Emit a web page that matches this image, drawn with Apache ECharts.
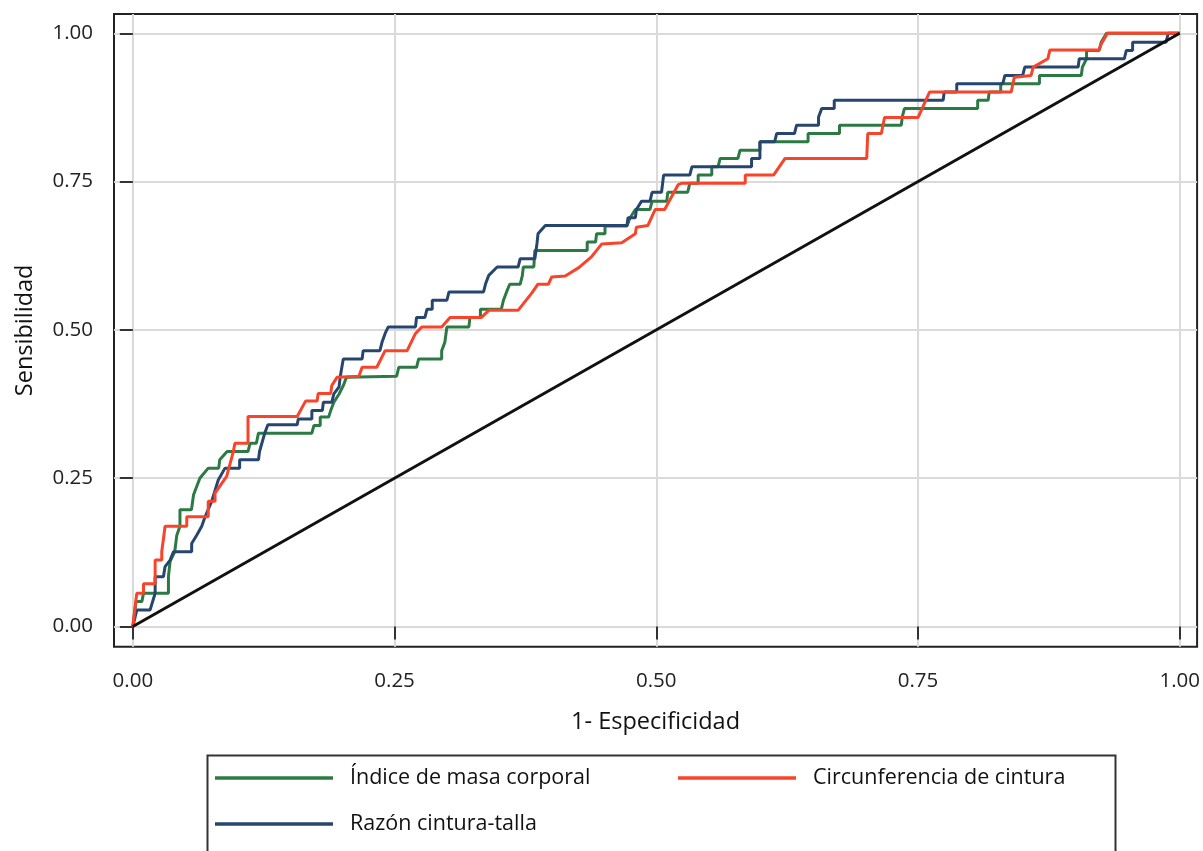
<!DOCTYPE html>
<html>
<head>
<meta charset="utf-8">
<script src="https://cdn.jsdelivr.net/npm/echarts@6/dist/echarts.min.js"></script>
<style>
html,body{margin:0;padding:0;background:#fff;}
#chart{width:1203px;height:851px;}
</style>
</head>
<body>
<div id="chart"></div>
<script>
const seriesNames = ['Índice de masa corporal', 'Circunferencia de cintura', 'Razón cintura-talla'];
const tickValues = [0, 0.25, 0.5, 0.75, 1];
const tickLabels = ['0.00', '0.25', '0.50', '0.75', '1.00'];
const xTitle = '1- Especificidad';
const yTitle = 'Sensibilidad';

const imcPoints = [[0,0],[0.0016,0.022],[0.003,0.042],[0.0086,0.042],[0.0102,0.056],[0.034,0.056],[0.034,0.084],[0.0356,0.110],[0.040,0.126],[0.042,0.154],[0.045,0.169],[0.045,0.197],[0.056,0.197],[0.058,0.222],[0.064,0.250],[0.072,0.267],[0.082,0.267],[0.083,0.281],[0.090,0.295],[0.110,0.295],[0.112,0.309],[0.118,0.309],[0.120,0.326],[0.171,0.326],[0.173,0.339],[0.179,0.339],[0.179,0.353],[0.187,0.353],[0.189,0.364],[0.192,0.378],[0.197,0.392],[0.201,0.406],[0.204,0.420],[0.252,0.422],[0.254,0.437],[0.271,0.437],[0.273,0.451],[0.295,0.451],[0.295,0.465],[0.298,0.479],[0.300,0.505],[0.321,0.505],[0.322,0.521],[0.332,0.521],[0.332,0.535],[0.352,0.535],[0.354,0.550],[0.357,0.564],[0.360,0.577],[0.370,0.577],[0.372,0.591],[0.373,0.606],[0.383,0.606],[0.384,0.634],[0.434,0.634],[0.434,0.648],[0.442,0.648],[0.443,0.662],[0.451,0.662],[0.451,0.675],[0.472,0.675],[0.475,0.689],[0.480,0.703],[0.494,0.703],[0.496,0.717],[0.510,0.717],[0.511,0.732],[0.530,0.732],[0.532,0.747],[0.540,0.747],[0.540,0.761],[0.553,0.761],[0.553,0.775],[0.559,0.775],[0.561,0.789],[0.578,0.789],[0.580,0.803],[0.599,0.803],[0.599,0.817],[0.645,0.817],[0.645,0.831],[0.675,0.831],[0.675,0.845],[0.734,0.845],[0.735,0.859],[0.737,0.873],[0.807,0.873],[0.807,0.887],[0.817,0.887],[0.818,0.901],[0.829,0.901],[0.829,0.915],[0.866,0.915],[0.866,0.929],[0.906,0.929],[0.907,0.943],[0.911,0.957],[0.911,0.971],[0.923,0.971],[0.925,0.985],[0.930,1.0],[1,1]];

const ccPoints = [[0,0],[0.0022,0.034],[0.0038,0.056],[0.0102,0.056],[0.0102,0.072],[0.0213,0.072],[0.0213,0.112],[0.0276,0.112],[0.0276,0.126],[0.0308,0.169],[0.0515,0.169],[0.0515,0.185],[0.072,0.185],[0.072,0.211],[0.0785,0.211],[0.0785,0.225],[0.0896,0.253],[0.096,0.295],[0.0975,0.309],[0.110,0.309],[0.110,0.354],[0.157,0.354],[0.165,0.380],[0.176,0.380],[0.177,0.393],[0.189,0.393],[0.190,0.406],[0.195,0.420],[0.216,0.422],[0.219,0.437],[0.233,0.437],[0.241,0.465],[0.262,0.465],[0.270,0.494],[0.276,0.505],[0.295,0.505],[0.303,0.521],[0.333,0.521],[0.340,0.533],[0.368,0.533],[0.381,0.562],[0.387,0.577],[0.397,0.577],[0.400,0.589],[0.413,0.591],[0.426,0.605],[0.438,0.623],[0.448,0.645],[0.467,0.647],[0.480,0.662],[0.481,0.673],[0.492,0.676],[0.499,0.703],[0.508,0.703],[0.521,0.745],[0.524,0.747],[0.585,0.747],[0.585,0.761],[0.612,0.761],[0.623,0.789],[0.701,0.789],[0.702,0.831],[0.715,0.831],[0.718,0.858],[0.750,0.858],[0.761,0.901],[0.839,0.901],[0.842,0.926],[0.858,0.929],[0.860,0.943],[0.874,0.957],[0.876,0.972],[0.923,0.972],[0.925,0.982],[0.931,1.0],[1,1]];

const rctPoints = [[0,0],[0.0038,0.028],[0.0165,0.028],[0.0213,0.056],[0.0213,0.084],[0.0292,0.084],[0.0308,0.101],[0.0356,0.112],[0.0388,0.126],[0.0562,0.126],[0.0562,0.140],[0.061,0.154],[0.0658,0.169],[0.069,0.185],[0.0753,0.211],[0.0816,0.247],[0.088,0.267],[0.102,0.267],[0.102,0.281],[0.120,0.281],[0.121,0.295],[0.126,0.326],[0.129,0.340],[0.157,0.340],[0.158,0.350],[0.171,0.350],[0.171,0.364],[0.181,0.364],[0.182,0.378],[0.190,0.378],[0.192,0.392],[0.197,0.404],[0.198,0.420],[0.201,0.451],[0.219,0.451],[0.220,0.465],[0.236,0.465],[0.238,0.479],[0.241,0.494],[0.244,0.505],[0.270,0.505],[0.271,0.521],[0.279,0.521],[0.281,0.535],[0.286,0.535],[0.286,0.550],[0.300,0.550],[0.302,0.564],[0.335,0.564],[0.337,0.578],[0.340,0.592],[0.348,0.606],[0.368,0.606],[0.370,0.620],[0.384,0.620],[0.386,0.645],[0.387,0.662],[0.394,0.676],[0.472,0.676],[0.473,0.689],[0.480,0.689],[0.481,0.703],[0.486,0.717],[0.494,0.717],[0.496,0.732],[0.505,0.732],[0.507,0.761],[0.532,0.761],[0.534,0.775],[0.591,0.775],[0.591,0.789],[0.599,0.789],[0.599,0.817],[0.613,0.817],[0.615,0.831],[0.632,0.831],[0.634,0.845],[0.655,0.845],[0.655,0.859],[0.658,0.873],[0.670,0.873],[0.670,0.887],[0.774,0.887],[0.775,0.901],[0.787,0.901],[0.787,0.915],[0.831,0.915],[0.833,0.929],[0.850,0.929],[0.852,0.943],[0.903,0.943],[0.904,0.957],[0.947,0.957],[0.949,0.971],[0.955,0.971],[0.955,0.985],[0.987,0.985],[0.989,1.0],[1,1]];

const refPoints = [[0,0],[1,1]];

const colors = {imc:'#2b7a43', cc:'#f7442b', rct:'#27466f', ref:'#111111'};
const FONT = 'Open Sans';

const chart = echarts.init(document.getElementById('chart'), null, {renderer:'canvas'});

function fmt(v){
  const i = tickValues.indexOf(Math.round(v*100)/100);
  return i >= 0 ? tickLabels[i] : '';
}

const legendText = {fontSize:21.5, fontFamily:FONT, color:'#111', padding:[0,0,0,12]};
function legendAt(name, left, top){
  return {data:[name], left:left, top:top, padding:0, itemWidth:118, itemHeight:3.5,
    icon:'rect', selectedMode:false, textStyle:legendText};
}

chart.setOption({
  animation:false,
  backgroundColor:'#fff',
  grid:{left:114, top:14, width:1086.7, height:632.7, show:true, borderColor:'#222', borderWidth:2, backgroundColor:'transparent'},
  xAxis:{
    type:'value', min:-0.018, max:1.0166,
    name:xTitle, nameLocation:'middle', nameGap:64,
    nameTextStyle:{fontSize:23.5, fontFamily:FONT, color:'#111'},
    axisLine:{show:false},
    axisTick:{show:true, length:13, inside:false, customValues:tickValues, lineStyle:{color:'#333', width:2}},
    axisLabel:{customValues:tickValues, formatter:fmt, margin:24, fontSize:20.5, fontFamily:FONT, color:'#222'},
    splitLine:{show:true, lineStyle:{color:'#dadada', width:2}}
  },
  yAxis:{
    type:'value', min:-0.034, max:1.0325,
    name:yTitle, nameLocation:'middle', nameGap:77,
    nameTextStyle:{fontSize:23.5, fontFamily:FONT, color:'#111'},
    axisLine:{show:false},
    axisTick:{show:true, length:13, inside:false, customValues:tickValues, lineStyle:{color:'#333', width:2}},
    axisLabel:{customValues:tickValues, formatter:fmt, margin:21, fontSize:20.5, fontFamily:FONT, color:'#222'},
    splitLine:{show:true, lineStyle:{color:'#dadada', width:2}}
  },
  legend:[
    legendAt(seriesNames[0], 215, 767),
    legendAt(seriesNames[1], 678, 767),
    legendAt(seriesNames[2], 215, 813)
  ],
  graphic:[
    {type:'rect', left:205, top:753, shape:{width:908, height:120}, style:{fill:'none', stroke:'#333', lineWidth:2}, silent:true, z:-1}
  ],
  series:[
    {name:seriesNames[0], type:'line', data:imcPoints, symbol:'none', color:colors.imc, lineStyle:{width:3, color:colors.imc}, z:2},
    {name:seriesNames[2], type:'line', data:rctPoints, symbol:'none', color:colors.rct, lineStyle:{width:3, color:colors.rct}, z:3},
    {name:seriesNames[1], type:'line', data:ccPoints, symbol:'none', color:colors.cc, lineStyle:{width:3, color:colors.cc}, z:4},
    {name:'Referencia', type:'line', data:refPoints, symbol:'none', color:colors.ref, lineStyle:{width:3, color:colors.ref}, z:5}
  ]
});
</script>
</body>
</html>
